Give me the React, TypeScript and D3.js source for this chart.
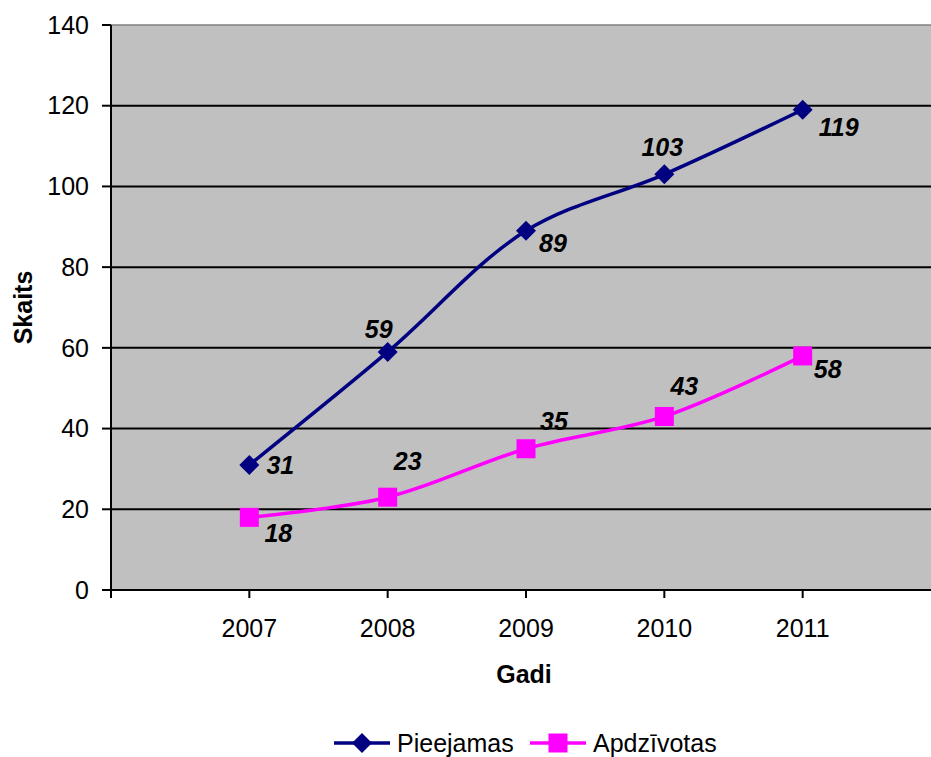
import * as d3 from 'd3';

const years = ['2007', '2008', '2009', '2010', '2011'];
const pieejamas = [31, 59, 89, 103, 119];
const apdzivotas = [18, 23, 35, 43, 58];
const yTicks = [0, 20, 40, 60, 80, 100, 120, 140];

// hand-placed data label offsets (dx, dy) as in the original chart
const pieOffsets: [number, number][] = [[31, 0], [-9, -23], [27, 12], [-2, -27], [36, 17]];
const apdOffsets: [number, number][] = [[29, 16], [20, -36], [28, -28], [20, -30], [25, 13]];

const W = 931;
const H = 757;
const left = 111;
const right = 941;
const top = 25;
const bottom = 590;
const font = '"Liberation Sans", Arial, sans-serif';
const fs = 25;
const navy = '#000080';
const magenta = '#FF00FF';

export default function App() {
  const x = d3.scalePoint<string>().domain(years).range([left, right]).padding(1);
  const y = d3.scaleLinear().domain([0, 140]).range([bottom, top]);
  const xTicks = [left, ...years.map(d => x(d) as number), right];

  const line = d3
    .line<number>()
    .x((_, i) => x(years[i]) as number)
    .y(d => y(d))
    .curve(d3.curveCatmullRom.alpha(0.5));

  const diamond = (cx: number, cy: number, r = 10) =>
    `M${cx},${cy - r}L${cx + r},${cy}L${cx},${cy + r}L${cx - r},${cy}Z`;

  return (
    <>
      <style>{'body{margin:0}'}</style>
      <svg width={W} height={H} style={{ display: 'block', fontFamily: font }}>
        <rect x={0} y={0} width={W} height={H} fill="#fff" />
        <rect x={left} y={top} width={right - left} height={bottom - top} fill="#C0C0C0" stroke="#808080" strokeWidth={1.5} />

        {yTicks.slice(1, -1).map(t => (
          <line key={t} x1={left} x2={right} y1={y(t)} y2={y(t)} stroke="#000" strokeWidth={2} />
        ))}

        {/* y axis */}
        <line x1={left} x2={left} y1={top} y2={bottom} stroke="#000" strokeWidth={2} />
        {yTicks.map(t => (
          <g key={t}>
            <line x1={left - 9} x2={left} y1={y(t)} y2={y(t)} stroke="#000" strokeWidth={2} />
            <text x={89} y={y(t)} dy="0.35em" textAnchor="end" fontSize={fs}>{t}</text>
          </g>
        ))}

        {/* x axis */}
        <line x1={left} x2={right} y1={bottom} y2={bottom} stroke="#000" strokeWidth={2} />
        {xTicks.map((t, i) => (
          <line key={i} x1={t} x2={t} y1={bottom} y2={bottom + 8} stroke="#000" strokeWidth={2} />
        ))}
        {years.map(d => (
          <text key={d} x={x(d)} y={637} textAnchor="middle" fontSize={fs}>{d}</text>
        ))}

        <text x={524} y={674} dy="0.35em" textAnchor="middle" fontSize={fs} fontWeight="bold">Gadi</text>
        <text transform={`translate(23,${(top + bottom) / 2}) rotate(-90)`} dy="0.35em" textAnchor="middle" fontSize={fs} fontWeight="bold">Skaits</text>

        {/* series */}
        <path d={line(apdzivotas) ?? ''} fill="none" stroke={magenta} strokeWidth={3.5} />
        <path d={line(pieejamas) ?? ''} fill="none" stroke={navy} strokeWidth={3.5} />

        {pieejamas.map((v, i) => (
          <path key={i} d={diamond(x(years[i]) as number, y(v))} fill={navy} />
        ))}
        {apdzivotas.map((v, i) => (
          <rect key={i} x={(x(years[i]) as number) - 9.5} y={y(v) - 9.5} width={19} height={19} fill={magenta} />
        ))}

        {pieejamas.map((v, i) => (
          <text key={i} x={(x(years[i]) as number) + pieOffsets[i][0]} y={y(v) + pieOffsets[i][1]} dy="0.35em"
            textAnchor="middle" fontSize={fs} fontWeight="bold" fontStyle="italic">{v}</text>
        ))}
        {apdzivotas.map((v, i) => (
          <text key={i} x={(x(years[i]) as number) + apdOffsets[i][0]} y={y(v) + apdOffsets[i][1]} dy="0.35em"
            textAnchor="middle" fontSize={fs} fontWeight="bold" fontStyle="italic">{v}</text>
        ))}

        {/* legend */}
        <g>
          <line x1={334} x2={390} y1={743} y2={743} stroke={navy} strokeWidth={3.5} />
          <path d={diamond(362, 743)} fill={navy} />
          <text x={397} y={743} dy="0.35em" fontSize={fs}>Pieejamas</text>
          <line x1={530} x2={586} y1={743} y2={743} stroke={magenta} strokeWidth={3.5} />
          <rect x={548.5} y={733.5} width={19} height={19} fill={magenta} />
          <text x={593} y={743} dy="0.35em" fontSize={fs}>Apdzīvotas</text>
        </g>
      </svg>
    </>
  );
}
